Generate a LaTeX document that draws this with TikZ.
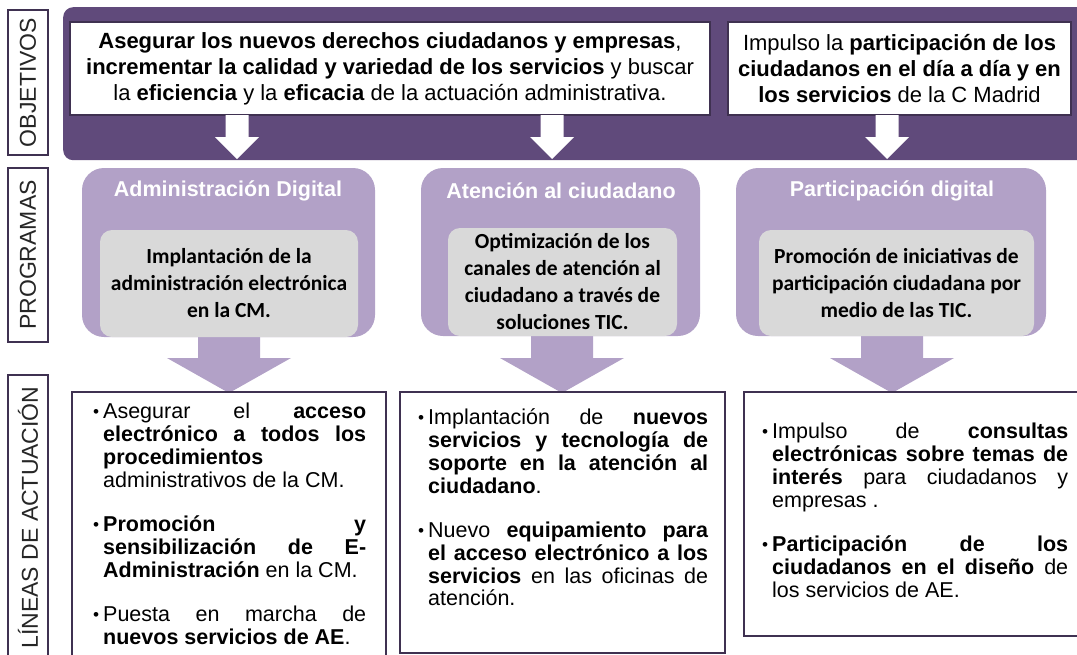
\documentclass[tikz,border=0pt]{standalone}
\usepackage{fontspec}
\setmainfont{Liberation Sans}
\newfontfamily\calibri{Carlito}
\usetikzlibrary{positioning}

\definecolor{violetdark}{RGB}{96,74,123}
\definecolor{violetline}{RGB}{63,49,81}
\definecolor{lila}{RGB}{178,161,199}
\definecolor{grisbox}{RGB}{217,217,217}

\newcommand{\punto}{\par\tolerance=10000\relax\hbadness=10000\relax\leftskip=10pt\relax\noindent\hspace*{-10pt}\makebox[10pt][l]{\raisebox{1pt}{\scalebox{0.8}{\textbullet}}}}

\begin{document}
\begin{tikzpicture}[x=1pt,y=-1pt,
  sidelabel/.style={draw=violetline, line width=2.5pt, fill=white, rotate=90, minimum height=40pt, inner sep=0pt, text=black!85, font=\fontsize{23}{26}\selectfont},
  objbox/.style={draw=violetline, line width=2pt, fill=white, inner sep=0pt, align=center, font=\fontsize{22}{26}\selectfont},
  progbox/.style={fill=lila, rounded corners=22pt, inner sep=0pt},
  progtitle/.style={text=white, inner sep=0pt, font=\bfseries\fontsize{21.5}{24}\selectfont},
  ideabox/.style={fill=grisbox, rounded corners=12pt, inner sep=0pt, align=center, font=\calibri\bfseries\fontsize{21.5}{27}\selectfont},
  linebox/.style={draw=violetline, line width=2.5pt, fill=white, inner sep=0pt},
  bullets/.style={anchor=north west, inner sep=0pt, text width=#1, align=justify, font=\fontsize{21.5}{22.7}\selectfont}
]
\useasboundingbox (0,0) rectangle (1077,654);
\clip (0,0) rectangle (1077,654);

% Objetivos
\node [fill=violetdark, rounded corners=10pt, minimum width=1030pt, minimum height=153pt, anchor=north west, inner sep=0pt] (fondo) at (63,7) {};
\node [objbox, minimum width=640pt, minimum height=93pt] (objA) at (390,68.5) {\textbf{Asegurar los nuevos derechos ciudadanos y empresas},\\
\textbf{incrementar la calidad y variedad de los servicios} y buscar\\
la \textbf{eficiencia} y la \textbf{eficacia} de la actuación administrativa.};
\node [objbox, minimum width=343pt, minimum height=93pt] (objB) at (899.5,68.5) {Impulso la \textbf{participación de los}\\
\textbf{ciudadanos en el día a día y en}\\
\textbf{los servicios} de la C Madrid};

%Down arrows (white)
\fill [white] (225.5,115) -- (248.5,115) -- (248.5,137) -- (259,137) -- (237,159) -- (215,137) -- (225.5,137) -- cycle;
\fill [white] (540.5,115) -- (563.5,115) -- (563.5,137) -- (574,137) -- (552,159) -- (530,137) -- (540.5,137) -- cycle;
\fill [white] (875.5,115) -- (898.5,115) -- (898.5,137) -- (909,137) -- (887,159) -- (865,137) -- (875.5,137) -- cycle;

% Side labels
\node [sidelabel, minimum width=145pt] (objetivos) at (28,82.5) {OBJETIVOS};
\node [sidelabel, minimum width=174pt] (programas) at (28,255) {PROGRAMAS};
\node [sidelabel, minimum width=285pt] (lineas) at (28,517.5) {LÍNEAS DE ACTUACIÓN};

% Programas
\node [progbox, minimum width=293pt, minimum height=169pt] (progA) at (228.5,252.5) {};
\node [progbox, minimum width=279pt, minimum height=168pt] (progB) at (560.5,252) {};
\node [progbox, minimum width=310pt, minimum height=168pt] (progC) at (891,252) {};

%Down arrows (lila)
\fill [lila] (198,336) -- (260,336) -- (260,358) -- (291,358) -- (229,393) -- (167,358) -- (198,358) -- cycle;
\fill [lila] (531,336) -- (593,336) -- (593,358) -- (624,358) -- (562,393) -- (500,358) -- (531,358) -- cycle;
\fill [lila] (861,336) -- (923,336) -- (923,358) -- (954,358) -- (892,393) -- (830,358) -- (861,358) -- cycle;

\node [ideabox, minimum width=258pt, minimum height=107pt] (ideaA) at (229,283.5) {Implantación de la\\administración electrónica\\en la CM.};
\node [ideabox, minimum width=229pt, minimum height=108pt] (ideaB) at (562.5,282) {Optimización de los\\canales de atención al\\ciudadano a través de\\soluciones TIC.};
\node [ideabox, minimum width=275pt, minimum height=106pt] (ideaC) at (896.5,283) {Promoción de iniciativas de\\participación ciudadana por\\medio de las TIC.};

% Text Node
\node [progtitle] (titA) at (228,191) {Administración Digital};
\node [progtitle] (titB) at (561,191) {Atención al ciudadano};
\node [progtitle] (titC) at (892,191) {Participación digital};

% Lineas de actuacion
\node [linebox, minimum width=314pt, minimum height=278pt] (lineA) at (229,531) {};
\node [linebox, minimum width=325pt, minimum height=261pt] (lineB) at (562.5,522.5) {};
\node [linebox, minimum width=346pt, minimum height=244pt] (lineC) at (917,514) {};

\node [bullets=273pt] (textoA) at (93,396) {\punto Asegurar el \textbf{acceso}\linebreak
\textbf{electrónico a todos los}\linebreak
\textbf{procedimientos}\newline
administrativos de la CM.\par\vspace{22pt}
\punto\textbf{Promoción y}\linebreak
\textbf{sensibilización de E-}\linebreak
\textbf{Administración} en la CM.\par\vspace{22pt}
\punto Puesta en marcha de\linebreak
\textbf{nuevos servicios de AE}.\par};

\node [bullets=290pt] (textoB) at (418,402) {\punto Implantación de \textbf{nuevos}\linebreak
\textbf{servicios y tecnología de}\linebreak
\textbf{soporte en la atención al}\linebreak
\textbf{ciudadano}.\par\vspace{22pt}
\punto Nuevo \textbf{equipamiento para}\linebreak
\textbf{el acceso electrónico a los}\linebreak
\textbf{servicios} en las oficinas de\linebreak
atención.\par};

\node [bullets=306pt] (textoC) at (762,416) {\punto Impulso de \textbf{consultas}\linebreak
\textbf{electrónicas sobre temas de}\linebreak
\textbf{interés} para ciudadanos y\linebreak
empresas .\par\vspace{22pt}
\punto\textbf{Participación de los}\linebreak
\textbf{ciudadanos en el diseño} de\linebreak
los servicios de AE.\par};

\end{tikzpicture}
\end{document}
